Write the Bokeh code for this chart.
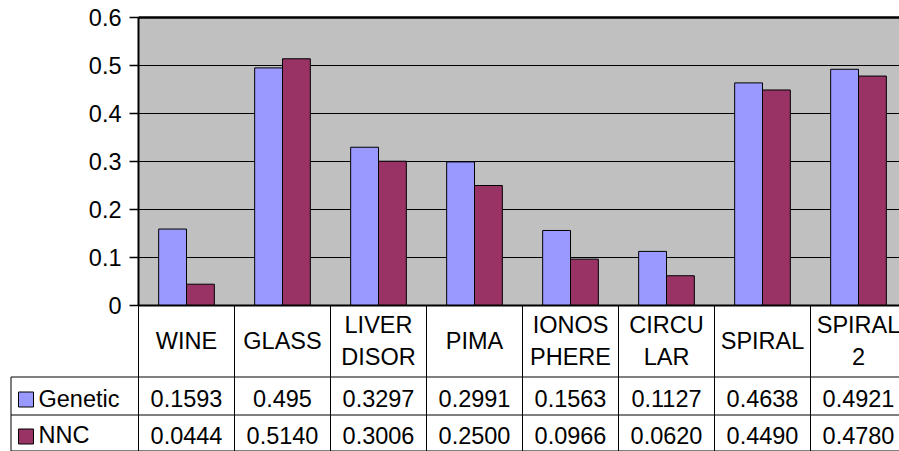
from bokeh.plotting import figure
from bokeh.models import Range1d, FixedTicker, LinearAxis
from bokeh.core.properties import value
from bokeh.embed import file_html
from bokeh.resources import INLINE

# Data sets and error rates of the two classifiers
categories = ["WINE", "GLASS", "LIVER\nDISOR", "PIMA", "IONOS\nPHERE",
              "CIRCU\nLAR", "SPIRAL", "SPIRAL\n2"]
genetic_labels = ["0.1593", "0.495", "0.3297", "0.2991", "0.1563", "0.1127",
                  "0.4638", "0.4921"]
nnc_labels = ["0.0444", "0.5140", "0.3006", "0.2500", "0.0966", "0.0620",
              "0.4490", "0.4780"]
series_names = ["Genetic", "NNC"]
y_tick_labels = ["0", "0.1", "0.2", "0.3", "0.4", "0.5", "0.6"]

genetic = [float(s) for s in genetic_labels]
nnc = [float(s) for s in nnc_labels]
y_ticks = [float(s) for s in y_tick_labels]

FONT = "Liberation Sans"
FSIZE = "23.5px"
GEN_COLOR = "#9999FF"
NNC_COLOR = "#993366"
AREA_COLOR = "#C0C0C0"

W, H = 899, 451
TOP = 17            # top of the plotting area
BASE = 305          # pixel row of the zero line
AXIS_X = 138        # pixel column of the value axis
COL = 96.0          # pixel width of one category column
Y_MAX = 0.6
PX_PER_UNIT = (BASE - TOP) / Y_MAX

n = len(categories)
centers = [i + 0.5 for i in range(n)]
x_start = -AXIS_X / COL
x_end = (W - AXIS_X) / COL
y_bottom = -(H - BASE) / PX_PER_UNIT
y_top = Y_MAX + TOP / PX_PER_UNIT


def row_y(px):
    """Vertical position (in value units) of a pixel row below the chart."""
    return (BASE - px) / PX_PER_UNIT


def col_x(px):
    """Horizontal position (in category units) of a pixel column."""
    return (px - AXIS_X) / COL


p = figure(width=W, height=H, output_backend="svg", toolbar_location=None,
           x_range=Range1d(x_start, x_end), y_range=Range1d(y_bottom, y_top),
           x_axis_type=None, y_axis_type=None, min_border=0)
p.outline_line_color = None
p.background_fill_color = "white"
p.border_fill_color = "white"
p.grid.visible = False

# value axis sitting at the first category edge
ax = LinearAxis(fixed_location=0, bounds=(0, Y_MAX),
                ticker=FixedTicker(ticks=y_ticks))
ax.major_label_overrides = {t: s for t, s in zip(y_ticks, y_tick_labels)}
ax.axis_line_color = "black"
ax.axis_line_width = 2
ax.major_tick_line_color = "black"
ax.major_tick_line_width = 1.5
ax.major_tick_out = 9
ax.major_tick_in = 0
ax.minor_tick_line_color = None
ax.major_label_standoff = 8
ax.major_label_text_font = FONT
ax.major_label_text_font_size = FSIZE
ax.major_label_text_color = "black"
p.add_layout(ax, "left")

# grey plotting area and its gridlines
p.quad(left=[0], right=[x_end], bottom=[0], top=[Y_MAX],
       fill_color=AREA_COLOR, line_color=None)
grid_vals = y_ticks[1:-1]
p.segment(x0=[0] * len(grid_vals), x1=[x_end] * len(grid_vals),
          y0=grid_vals, y1=grid_vals, line_color="black", line_width=1)

# bars
bar_w = 0.29
p.vbar(x=[c - 0.145 for c in centers], top=genetic, width=bar_w,
       fill_color=GEN_COLOR, line_color="black", line_width=1)
p.vbar(x=[c + 0.145 for c in centers], top=nnc, width=bar_w,
       fill_color=NNC_COLOR, line_color="black", line_width=1)

# frame lines of the plotting area
p.segment(x0=[0], x1=[x_end], y0=[Y_MAX], y1=[Y_MAX], line_color="black", line_width=2.5)
p.segment(x0=[0], x1=[x_end], y0=[0], y1=[0], line_color="black", line_width=2)

# ---- data table below the chart ----
legend_left = col_x(10.5)
h_lines = [row_y(376.5), row_y(414.5), row_y(450.5)]
p.segment(x0=[legend_left] * 3, x1=[x_end] * 3, y0=h_lines, y1=h_lines,
          line_color="black", line_width=1)
p.segment(x0=list(range(n + 1)), x1=list(range(n + 1)),
          y0=[0] * (n + 1), y1=[row_y(451)] * (n + 1),
          line_color="black", line_width=1)
p.segment(x0=[legend_left], x1=[legend_left], y0=[h_lines[0]], y1=[row_y(451)],
          line_color="black", line_width=1)

# column headers
p.text(x=centers, y=[row_y(340.5)] * n, text=categories, text_align="center",
       text_baseline="middle", text_font=value(FONT), text_font_size=FSIZE,
       text_color="black", text_line_height=1.21)

# value rows
rows = [row_y(398), row_y(434.5)]
for y, labels in zip(rows, [genetic_labels, nnc_labels]):
    p.text(x=centers, y=[y] * n, text=labels, text_align="center",
           text_baseline="middle", text_font=value(FONT), text_font_size=FSIZE,
           text_color="black")

# legend keys in the first column
key_x = col_x(25.5)
p.rect(x=[key_x, key_x], y=[row_y(399), row_y(436)], width=15, height=15,
       width_units="screen", height_units="screen",
       fill_color=[GEN_COLOR, NNC_COLOR], line_color="black", line_width=1)
p.text(x=[col_x(38)] * 2, y=rows, text=series_names, text_align="left",
       text_baseline="middle", text_font=value(FONT), text_font_size=FSIZE,
       text_color="black")

open("out.html", "w").write(file_html(p, INLINE))
